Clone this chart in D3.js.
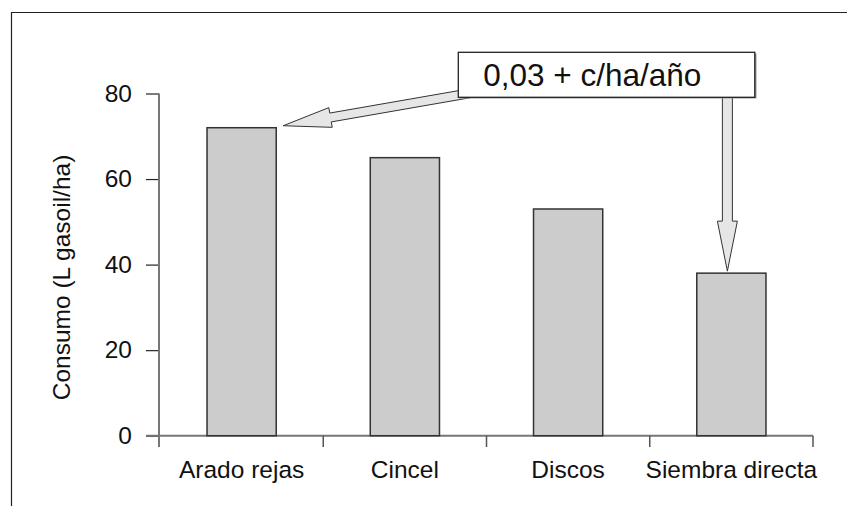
<!DOCTYPE html>
<html>
<head>
<meta charset="utf-8">
<script src="https://cdn.jsdelivr.net/npm/d3@7/dist/d3.min.js"></script>
<style>
  html, body { margin: 0; padding: 0; background: #fff; }
  svg { display: block; font-family: "Liberation Sans", Arial, sans-serif; }
</style>
</head>
<body>
<script>
// Fuel consumption by tillage system
const categories = ["Arado rejas", "Cincel", "Discos", "Siembra directa"];
const consumo = [72, 65, 53, 38];
const yTicks = [0, 20, 40, 60, 80];
const yTitle = "Consumo (L gasoil/ha)";
const noteText = "0,03 + c/ha/año";

const W = 847, H = 506;
const svg = d3.select("body").append("svg").attr("width", W).attr("height", H);

// outer frame
svg.append("path")
  .attr("d", `M11.5,${H} L11.5,12.5 L${W},12.5`)
  .attr("fill", "none").attr("stroke", "#222").attr("stroke-width", 1.2);

const x = d3.scaleBand().domain(categories).range([160, 813])
  .paddingInner(0.576).paddingOuter(0.288);
const y = d3.scaleLinear().domain([0, 80]).range([435.7, 93.5]);

// y axis
const yAxis = svg.append("g").attr("transform", "translate(159,0)")
  .call(d3.axisLeft(y).tickValues(yTicks).tickSize(13).tickPadding(14).tickFormat(d3.format("d")));
yAxis.select(".domain").remove();
yAxis.selectAll(".tick line").attr("stroke", "#222").attr("stroke-width", 1.2);
yAxis.selectAll(".tick text").attr("font-size", 24.5).attr("fill", "#111")
  .attr("font-family", "Liberation Sans, Arial, sans-serif");
svg.append("line").attr("x1", 159).attr("x2", 159).attr("y1", y(80)).attr("y2", 447)
  .attr("stroke", "#777").attr("stroke-width", 2);

// x axis: baseline plus boundary ticks between categories
const bounds = categories.map(c => x(c) - x.step() * 0.288).concat([x.range()[1]]);
svg.append("line").attr("x1", 146).attr("x2", bounds[bounds.length - 1]).attr("y1", y(0)).attr("y2", y(0))
  .attr("stroke", "#777").attr("stroke-width", 2);
svg.append("g").selectAll("line").data(bounds.slice(1)).join("line")
  .attr("x1", d => d).attr("x2", d => d).attr("y1", y(0)).attr("y2", 447)
  .attr("stroke", "#555").attr("stroke-width", 1.5);

svg.append("g").selectAll("text").data(categories).join("text")
  .attr("x", d => x(d) + x.bandwidth() / 2).attr("y", 478)
  .attr("text-anchor", "middle").attr("font-size", 24.5).attr("fill", "#111")
  .text(d => d);

// y title
svg.append("text")
  .attr("transform", "translate(70,277.5) rotate(-90)")
  .attr("text-anchor", "middle").attr("font-size", 24.5).attr("fill", "#111")
  .text(yTitle);

// bars
svg.append("g").selectAll("rect").data(consumo).join("rect")
  .attr("x", (d, i) => x(categories[i]))
  .attr("y", d => y(d))
  .attr("width", x.bandwidth())
  .attr("height", d => y(0) - y(d))
  .attr("fill", "#cccccc").attr("stroke", "#333").attr("stroke-width", 1.5);

// block arrow outline from tail to tip
function blockArrow(x0, y0, x1, y1, shaftHalf, headHalf, headLen) {
  const dx = x1 - x0, dy = y1 - y0, L = Math.hypot(dx, dy);
  const ux = dx / L, uy = dy / L, nx = -uy, ny = ux;
  const bx = x1 - ux * headLen, by = y1 - uy * headLen;
  const p = [
    [x0 + nx * shaftHalf, y0 + ny * shaftHalf],
    [bx + nx * shaftHalf, by + ny * shaftHalf],
    [bx + nx * headHalf, by + ny * headHalf],
    [x1, y1],
    [bx - nx * headHalf, by - ny * headHalf],
    [bx - nx * shaftHalf, by - ny * shaftHalf],
    [x0 - nx * shaftHalf, y0 - ny * shaftHalf]
  ];
  return "M" + p.map(q => q.join(",")).join("L") + "Z";
}

const arrows = svg.append("g");
const tipA = [x(categories[0]) + x.bandwidth() + 7, y(consumo[0]) - 2];
arrows.append("path")
  .attr("d", blockArrow(470, 93.2, tipA[0], tipA[1], 4.5, 10, 48))
  .attr("fill", "#e6e6e6").attr("stroke", "#333").attr("stroke-width", 1);
const tipB = [x(categories[3]) + x.bandwidth() / 2 - 4, y(consumo[3]) - 2];
arrows.append("path")
  .attr("d", blockArrow(tipB[0], 90, tipB[0], tipB[1], 5, 10, 50))
  .attr("fill", "#e6e6e6").attr("stroke", "#333").attr("stroke-width", 1);

// note box
svg.append("rect").attr("x", 459.5).attr("y", 53.5).attr("width", 297).attr("height", 45)
  .attr("fill", "#999");
svg.append("rect").attr("x", 458.3).attr("y", 52.3).attr("width", 296.5).attr("height", 45)
  .attr("fill", "#fff").attr("stroke", "#222").attr("stroke-width", 1.3);
svg.append("text").attr("x", 483.3).attr("y", 85.5)
  .attr("font-size", 31.5).attr("fill", "#111").text(noteText);
</script>
</body>
</html>
